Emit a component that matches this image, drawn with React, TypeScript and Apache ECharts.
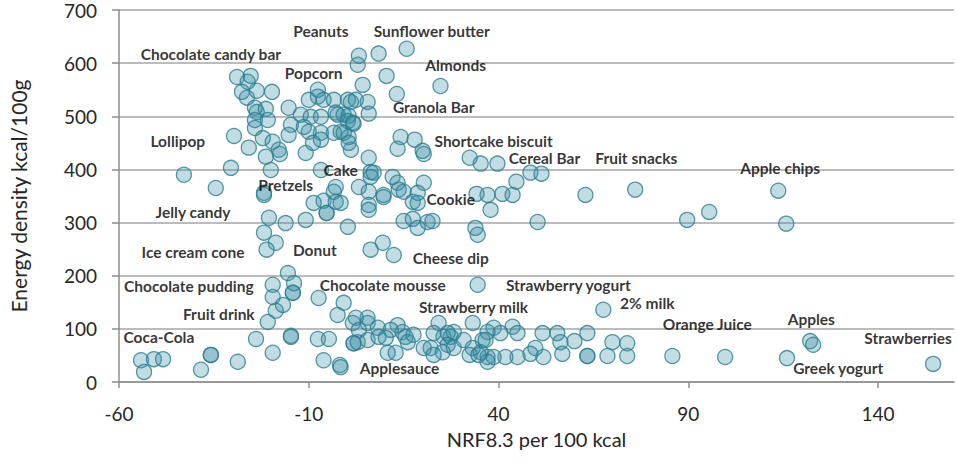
import React, { useEffect, useRef } from "react";
import * as echarts from "echarts";

// NRF8.3 per 100 kcal (x), Energy density kcal/100g (y)
const highEnergyPoints: [number, number][] = [
  [3.2, 614], [8.4, 618], [15.8, 627], [2.9, 597], [10.5, 576], [4.2, 559], [13.2, 542], [24.7, 557],
  [-28.9, 574], [-25.3, 576], [-26.1, 565], [-27.6, 546], [-23.7, 548], [-19.7, 546], [-26.3, 535],
  [-24.2, 516], [-23.7, 508], [-21.3, 514], [-20.8, 493], [-24.2, 493], [-24.2, 478], [-29.7, 463],
  [-22.1, 459], [-19.5, 452], [-25.8, 441], [-21.3, 424], [-17.9, 437], [-17.6, 429], [-30.5, 403],
  [-20, 399], [-10.8, 431], [-42.9, 390], [-34.5, 365], [-21.8, 356],
];

const clusterPoints: [number, number][] = [
  [-15.3, 516], [-12.1, 503], [-7.6, 550], [-7.6, 537], [-10, 531], [-6.1, 531], [-3.4, 531], [0.3, 531],
  [2.4, 531], [5.5, 527], [-2.9, 507], [-0.8, 503], [0.5, 501], [0.3, 491], [1.8, 486], [-9.5, 499],
  [-6.8, 499], [-14.7, 484], [-11.3, 480], [-10, 471], [-6.8, 469], [-3.4, 469], [-1.6, 471], [0.5, 461],
  [-6.8, 456], [-8.9, 450], [0.5, 450], [-15.3, 465], [1.1, 437], [5.8, 422], [6.3, 395], [6.3, 386],
  [-6.8, 399], [5.8, 505], [1.1, 527], [-2.4, 503], [1.6, 488], [-0.8, 469],
];

const midEnergyPoints: [number, number][] = [
  [14.2, 461], [17.9, 456], [13.4, 439], [20, 435], [20.3, 429], [12.1, 386], [13.4, 375], [20.3, 375],
  [-2.9, 367], [3.2, 367], [32.4, 422], [35.3, 411], [39.7, 411], [48.4, 394], [51.3, 392], [44.7, 377],
  [7.1, 394], [9.7, 348], [13.7, 362], [15, 358], [17.4, 339], [18.7, 337], [18.7, 356], [34.2, 354],
  [37.1, 352], [41, 354], [43.7, 352], [37.9, 324], [15, 303], [17.4, 307], [18.7, 290], [21.3, 301],
  [22.6, 303], [33.9, 290], [34.5, 277], [50.3, 301], [9.5, 262], [12.4, 239], [6.3, 249], [62.9, 352],
  [76, 362], [89.7, 305], [95.5, 320], [113.7, 360], [115.8, 298], [34.5, 183], [67.6, 136],
  [-21.8, 281], [-18.7, 262], [-21.1, 249], [-20.5, 309], [-16.1, 299], [-10.8, 305], [-8.7, 337],
  [-6.1, 341], [-3.4, 358], [-2.9, 339], [-1.6, 337], [-5.3, 318], [-5.3, 318], [0.3, 292], [-21.8, 352],
  [5.8, 358], [5.8, 333], [5.8, 324], [9.7, 352],
];

const lowEnergyPoints: [number, number][] = [
  [-15.5, 205], [-13.9, 186], [-19.5, 183], [-14.2, 168], [-14.2, 168], [-19.5, 160], [-16.8, 145],
  [-18.7, 134], [-20.8, 113], [-14.7, 87], [-23.9, 81], [-7.4, 158], [-0.8, 149], [-2.4, 126], [5.5, 121],
  [5.5, 111], [2.4, 121], [1.6, 111], [3.2, 98], [8.2, 102], [13.4, 107], [11.6, 98], [14.7, 94],
  [15.5, 85], [16.1, 75], [17.6, 89], [-14.7, 85], [-7.6, 81], [-4.7, 81], [1.8, 73], [1.8, 73], [2.9, 75],
  [5.5, 79], [8.4, 85], [10.3, 83], [10.8, 55], [12.9, 55], [20.3, 64], [22.1, 64], [24.2, 111], [25.5, 85],
  [27.4, 85], [28.2, 94], [26.6, 70], [28.2, 64], [30.8, 79], [33.2, 111], [33.2, 64], [35.8, 79],
  [35.3, 56], [37.1, 47], [-6.1, 41], [-1.8, 32], [25.3, 56], [22.9, 51], [38.7, 102], [40.5, 92],
  [37.1, 94], [36.6, 79], [43.7, 104], [45, 92], [51.6, 92], [49.7, 64], [48.4, 53], [51.8, 47], [45, 47],
  [41.8, 47], [38.7, 47], [37.1, 38], [55.5, 92], [63.4, 92], [60, 77], [56.3, 75], [70, 75], [73.9, 73],
  [73.9, 49], [68.7, 49], [63.4, 49], [63.4, 49], [56.8, 53], [85.8, 49], [99.7, 47], [116, 45],
  [122.1, 77], [122.9, 70], [154.5, 34], [32.4, 51], [34.7, 51], [22.9, 92], [26.6, 92],
  [-54.2, 41], [-50.8, 43], [-48.4, 43], [-53.4, 19], [-35.8, 51], [-35.8, 51], [-38.4, 23], [-28.7, 38],
  [-19.5, 55], [-1.6, 28],
];

const labelNames = [
  "Peanuts", "Sunflower butter", "Chocolate candy bar", "Almonds", "Popcorn", "Granola Bar", "Lollipop",
  "Shortcake biscuit", "Cereal Bar", "Fruit snacks", "Apple chips", "Cake", "Pretzels", "Cookie",
  "Jelly candy", "Ice cream cone", "Donut", "Cheese dip", "Chocolate pudding", "Chocolate mousse",
  "Strawberry yogurt", "Fruit drink", "Strawberry milk", "2% milk", "Coca-Cola", "Orange Juice", "Apples",
  "Strawberries", "Applesauce", "Greek yogurt",
];
const labelX = [
  -6.8, 22.4, -35.8, 28.7, -8.7, 22.9, -44.5, 38.7, 52.1, 76.3, 114.2, -1.6, -16.1, 27.4, -40.5, -40.5,
  -8.4, 27.4, -41.6, 9.5, 58.4, -33.7, 33.4, 79.2, -49.5, 95, 122.4, 147.9, 13.9, 129.5,
];
const labelY = [
  661, 661, 618, 597, 582, 518, 454, 454, 422, 422, 403, 399, 371, 345, 320, 245, 249, 233, 181, 183,
  183, 128, 141, 149, 85, 109, 119, 83, 26, 26,
];

const xMin = -60;
const xMax = 160;
const xStep = 50;
const yMin = 0;
const yMax = 700;
const yStep = 100;

export default function App() {
  const ref = useRef<HTMLDivElement>(null);
  useEffect(() => {
    if (!ref.current) return;
    const chart = echarts.init(ref.current, undefined, { renderer: "svg" });
    const points = [...highEnergyPoints, ...clusterPoints, ...midEnergyPoints, ...lowEnergyPoints];
    const labels = labelNames.map((n, i) => ({ name: n, value: [labelX[i], labelY[i]] }));
    const font = "Lato, 'Open Sans', sans-serif";
    chart.setOption({
      animation: false,
      backgroundColor: "#ffffff",
      grid: { left: 118, right: 3, top: 10, bottom: 85, containLabel: false },
      xAxis: {
        type: "value",
        min: xMin,
        max: xMax,
        interval: xStep,
        name: "NRF8.3 per 100 kcal",
        nameLocation: "middle",
        nameGap: 47,
        nameTextStyle: { fontFamily: font, fontSize: 20, color: "#262626" },
        axisLine: { show: true, onZero: false, lineStyle: { color: "#8c8c8c", width: 1.5 } },
        axisTick: { show: true, length: 6, lineStyle: { color: "#8c8c8c", width: 1.5 } },
        axisLabel: { fontFamily: font, fontSize: 19, color: "#262626", margin: 22, showMaxLabel: false },
        splitLine: { show: false },
      },
      yAxis: {
        type: "value",
        min: yMin,
        max: yMax,
        interval: yStep,
        name: "Energy density kcal/100g",
        nameLocation: "middle",
        nameGap: 90,
        nameRotate: 90,
        nameTextStyle: { fontFamily: font, fontSize: 21, color: "#262626" },
        axisLine: { show: true, onZero: false, lineStyle: { color: "#8c8c8c", width: 1.5 } },
        axisTick: { show: true, length: 7, lineStyle: { color: "#8c8c8c", width: 1.5 } },
        axisLabel: { fontFamily: font, fontSize: 19, color: "#262626", margin: 22 },
        splitLine: { show: true, lineStyle: { color: "#a6a6a6", width: 1.5 } },
      },
      series: [
        {
          type: "scatter",
          data: points,
          symbol: "circle",
          symbolSize: 15,
          itemStyle: {
            color: "rgba(52,140,163,0.38)",
            borderColor: "#2c7d91",
            borderWidth: 1.3,
          },
          silent: true,
          z: 2,
        },
        {
          type: "scatter",
          data: labels,
          symbolSize: 1,
          itemStyle: { color: "rgba(0,0,0,0)" },
          label: {
            show: true,
            position: "inside",
            formatter: "{b}",
            fontFamily: font,
            fontSize: 15.5,
            fontWeight: "bold",
            color: "#000000",
          },
          silent: true,
          z: 3,
        },
      ],
    });
    return () => chart.dispose();
  }, []);
  return (
    <div
      ref={ref}
      style={{ position: "absolute", left: 0, top: 0, width: 957, height: 467 }}
    />
  );
}
